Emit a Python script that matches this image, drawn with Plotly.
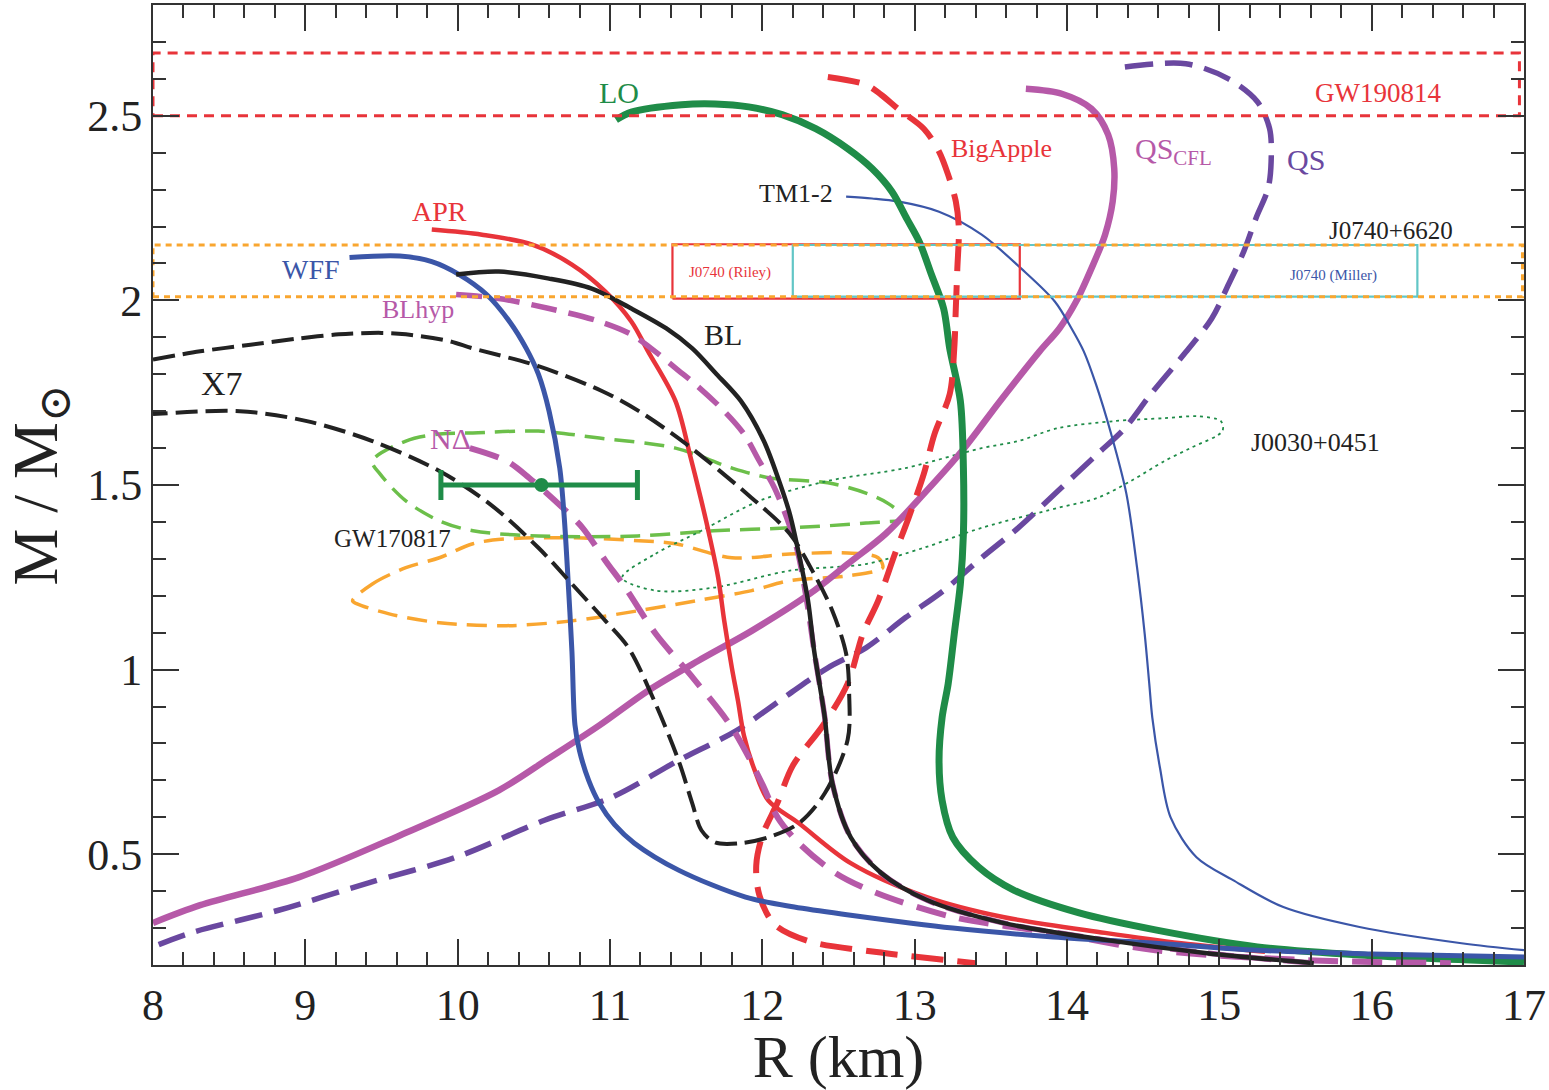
import plotly.graph_objects as go

# ---- mass-radius curves (R in km, M in solar masses) ----
wff_r = [9.29, 9.62, 9.83, 10.01, 10.19, 10.34, 10.45, 10.53, 10.60, 10.67, 10.70, 10.72, 10.75,
         10.77, 10.80, 10.86, 10.93, 11.03, 11.16, 11.45, 11.89, 12.21, 12.58, 13.25, 13.91, 14.58,
         15.25, 16.0, 17.0]
wff_m = [2.116, 2.12, 2.105, 2.07, 2.016, 1.943, 1.87, 1.80, 1.70, 1.546, 1.41, 1.276, 1.05,
         0.85, 0.78, 0.70, 0.638, 0.58, 0.53, 0.457, 0.384, 0.357, 0.335, 0.30, 0.276, 0.259,
         0.24, 0.23, 0.222]

apr_r = [9.83, 10.16, 10.49, 10.75, 10.97, 11.14, 11.25, 11.43, 11.53, 11.60, 11.65, 11.71, 11.75,
         11.80, 11.84, 11.88, 11.95, 12.04, 12.24, 12.58, 13.08, 13.58, 14.25, 14.75, 15.3]
apr_m = [2.192, 2.178, 2.151, 2.097, 2.024, 1.943, 1.862, 1.727, 1.573, 1.457, 1.368, 1.249, 1.132,
         1.005, 0.916, 0.82, 0.727, 0.645, 0.584, 0.476, 0.384, 0.33, 0.287, 0.259, 0.236]

bl_r = [9.99, 10.27, 10.60, 10.88, 11.14, 11.37, 11.54, 11.70, 11.86, 12.01, 12.11, 12.18, 12.24,
        12.30, 12.34, 12.38, 12.41, 12.46, 12.58, 12.78, 13.08, 13.58, 14.25, 14.92, 15.62]
bl_m = [2.07, 2.078, 2.059, 2.032, 1.978, 1.924, 1.870, 1.80, 1.727, 1.619, 1.511, 1.422, 1.313,
        1.186, 1.051, 0.95, 0.87, 0.692, 0.546, 0.449, 0.376, 0.314, 0.268, 0.232, 0.205]

blhyp_r = [9.99, 10.27, 10.60, 10.93, 11.14, 11.27, 11.45, 11.56, 11.75, 11.88, 11.98, 12.08, 12.16,
           12.23, 12.29, 12.34, 12.38, 12.41, 12.46, 12.58, 12.78, 13.08, 13.58, 14.25, 14.92, 15.62]
blhyp_m = [2.016, 2.005, 1.978, 1.943, 1.908, 1.870, 1.81, 1.773, 1.70, 1.638, 1.565, 1.492, 1.411,
           1.322, 1.19, 1.051, 0.95, 0.87, 0.692, 0.546, 0.449, 0.376, 0.314, 0.268, 0.232, 0.205]

ndelta_r = [10.08, 10.32, 10.47, 10.69, 10.82, 10.97, 11.10, 11.30, 11.55, 11.80, 12.00, 12.10,
            12.24, 12.48, 12.75, 13.25, 13.91, 14.58, 15.58, 16.52]
ndelta_m = [1.60, 1.565, 1.519, 1.438, 1.384, 1.295, 1.222, 1.097, 0.975, 0.843, 0.69, 0.60,
            0.53, 0.449, 0.395, 0.33, 0.287, 0.24, 0.213, 0.205]

x7_r = [8.0, 8.31, 8.64, 8.96, 9.22, 9.50, 9.66, 9.94, 10.10, 10.53, 10.95, 11.19, 11.50, 11.93,
        12.18, 12.34, 12.46, 12.55, 12.57, 12.56, 12.41, 12.24, 12.04, 11.86, 11.69, 11.60, 11.54,
        11.45, 11.29, 11.12, 10.97, 10.75, 10.53, 10.21, 9.88, 9.44, 9.01, 8.57, 8.0]
x7_m = [1.84, 1.862, 1.88, 1.897, 1.908, 1.912, 1.908, 1.89, 1.87, 1.822, 1.754, 1.70, 1.611, 1.465,
        1.368, 1.259, 1.159, 1.043, 0.935, 0.81, 0.665, 0.584, 0.546, 0.53, 0.532, 0.565, 0.638,
        0.754, 0.916, 1.06, 1.132, 1.232, 1.33, 1.449, 1.538, 1.619, 1.673, 1.70, 1.692]

lo_r = [11.04, 11.14, 11.47, 11.69, 11.91, 12.13, 12.35, 12.56, 12.72, 12.85, 12.95, 13.03, 13.11,
        13.19, 13.23, 13.30, 13.32, 13.32, 13.30, 13.26, 13.22, 13.18, 13.16, 13.18, 13.25, 13.42,
        13.65, 14.08, 14.58, 15.25, 15.92, 17.0]
lo_m = [2.489, 2.51, 2.53, 2.532, 2.524, 2.503, 2.465, 2.411, 2.357, 2.295, 2.22, 2.159, 2.070,
        1.978, 1.870, 1.727, 1.546, 1.368, 1.232, 1.097, 0.962, 0.87, 0.754, 0.646, 0.546, 0.465,
        0.403, 0.341, 0.295, 0.249, 0.227, 0.208]

tm12_r = [12.55, 12.72, 12.89, 13.16, 13.44, 13.70, 13.92, 14.03, 14.11, 14.19, 14.29, 14.39, 14.46,
          14.51, 14.54, 14.56, 14.61, 14.68, 14.85, 15.09, 15.42, 15.92, 16.59, 17.0]
tm12_m = [2.281, 2.276, 2.268, 2.24, 2.178, 2.086, 1.997, 1.924, 1.862, 1.773, 1.638, 1.476, 1.276,
          1.097, 0.962, 0.87, 0.735, 0.60, 0.492, 0.43, 0.357, 0.303, 0.259, 0.24]

bigapple_r = [12.43, 12.68, 12.78, 12.89, 13.06, 13.16, 13.22, 13.27, 13.29, 13.28, 13.27, 13.26,
              13.23, 13.13, 13.06, 12.96, 12.87, 12.76, 12.66, 12.56, 12.40, 12.20, 12.10, 12.00,
              11.96, 11.98, 12.08, 12.30, 12.75, 13.40]
bigapple_m = [2.605, 2.584, 2.557, 2.519, 2.465, 2.403, 2.34, 2.268, 2.195, 2.086, 1.978, 1.870,
              1.746, 1.638, 1.530, 1.411, 1.313, 1.186, 1.097, 0.962, 0.85, 0.74, 0.64, 0.55,
              0.47, 0.39, 0.31, 0.265, 0.235, 0.205]

qscfl_r = [13.73, 13.97, 14.16, 14.27, 14.31, 14.30, 14.25, 14.16, 14.06, 13.95, 13.82, 13.56, 13.31,
           13.06, 12.81, 12.56, 12.31, 11.93, 11.58, 11.25, 10.93, 10.60, 10.27, 9.62, 8.96, 8.31, 8.0]
qscfl_m = [2.573, 2.559, 2.519, 2.449, 2.357, 2.268, 2.178, 2.086, 1.997, 1.924, 1.862, 1.727, 1.592,
           1.476, 1.368, 1.286, 1.205, 1.105, 1.024, 0.943, 0.849, 0.76, 0.673, 0.551, 0.438, 0.362, 0.314]

qs_r = [14.38, 14.78, 15.06, 15.25, 15.33, 15.34, 15.32, 15.24, 15.16, 15.06, 14.95, 14.78, 14.55,
        14.38, 14.20, 13.94, 13.68, 13.44, 13.19, 12.94, 12.68, 12.43, 12.18, 11.83, 11.45, 11.01,
        10.57, 9.99, 9.41, 8.83, 8.24, 8.0]
qs_m = [2.632, 2.641, 2.60, 2.538, 2.465, 2.376, 2.303, 2.222, 2.132, 2.043, 1.951, 1.860, 1.746,
        1.654, 1.584, 1.484, 1.384, 1.303, 1.214, 1.141, 1.059, 1.005, 0.935, 0.835, 0.754, 0.654,
        0.592, 0.492, 0.422, 0.349, 0.286, 0.249]

# ---- observational constraints ----
gw_green_r = [9.44, 9.66, 9.88, 10.10, 10.53, 10.93, 11.43, 11.80, 12.05, 12.43, 12.68, 12.83, 12.93,
              12.68, 12.18, 11.68, 11.18, 10.53, 10.10, 9.88, 9.66, 9.49, 9.44]
gw_green_m = [1.565, 1.619, 1.638, 1.641, 1.646, 1.627, 1.60, 1.546, 1.519, 1.506, 1.478, 1.449, 1.41,
              1.397, 1.384, 1.376, 1.362, 1.362, 1.376, 1.403, 1.457, 1.530, 1.565]

gw_orange_r = [9.31, 9.44, 9.66, 9.88, 10.10, 10.32, 10.75, 11.19, 11.43, 11.80, 12.18, 12.56, 12.76,
               12.79, 12.56, 12.18, 11.93, 11.56, 11.18, 10.75, 10.32, 9.88, 9.55, 9.34, 9.31]
gw_orange_m = [1.186, 1.232, 1.276, 1.303, 1.341, 1.354, 1.357, 1.349, 1.341, 1.303, 1.313, 1.316, 1.303,
               1.276, 1.254, 1.241, 1.214, 1.186, 1.159, 1.132, 1.119, 1.127, 1.151, 1.178, 1.186]

j0030_r = [11.08, 11.30, 11.60, 11.98, 12.43, 12.94, 13.44, 13.68, 13.94, 14.31, 14.64, 14.86, 15.01,
           15.02, 14.81, 14.64, 14.42, 14.20, 13.94, 13.44, 13.06, 12.68, 12.18, 11.68, 11.30, 11.08]
j0030_m = [1.249, 1.314, 1.376, 1.457, 1.511, 1.546, 1.60, 1.619, 1.654, 1.673, 1.681, 1.686, 1.673,
           1.646, 1.60, 1.565, 1.511, 1.465, 1.438, 1.384, 1.330, 1.286, 1.268, 1.222, 1.214, 1.249]

# bands: [R_min, R_max], [M_min, M_max]
gw190814_r = [8.0, 16.97]
gw190814_m = [2.50, 2.67]
j0740_r = [8.0, 16.99]
j0740_m = [2.01, 2.15]
riley_r = [11.41, 13.69]
riley_m = [2.005, 2.152]
miller_r = [12.20, 16.30]
miller_m = [2.01, 2.15]

# radius estimate at 1.5 Msun with asymmetric error
r15_center = [10.55]
r15_mass = [1.5]
r15_err_plus = [0.63]
r15_err_minus = [0.66]

# ---- colours ----
RED = "#e8343a"
BLUE = "#3b56a8"
GREEN = "#1f8c48"
LGREEN = "#6cbf4a"
PINK = "#b659a8"
PURPLE = "#6a48a0"
ORANGE = "#f9a630"
CYAN = "#62c6c6"
BLACK = "#222222"

SERIF = "Liberation Serif, Times New Roman, DejaVu Serif, serif"


def box(rr, mm):
    return [rr[0], rr[1], rr[1], rr[0], rr[0]], [mm[0], mm[0], mm[1], mm[1], mm[0]]


fig = go.Figure()


def add_line(x, y, color, width, dash="solid", shape="spline"):
    line = dict(color=color, width=width, dash=dash, shape=shape)
    if shape == "spline":
        line["smoothing"] = 0.9
    fig.add_trace(go.Scatter(x=x, y=y, mode="lines", line=line,
                             hoverinfo="skip", showlegend=False))


# observational contours
add_line(gw_orange_r, gw_orange_m, ORANGE, 3.5, "20px,10px")
add_line(gw_green_r, gw_green_m, LGREEN, 3.5, "20px,10px")
add_line(j0030_r, j0030_m, GREEN, 1.8, "3px,4px")

# EOS curves
add_line(qscfl_r, qscfl_m, PINK, 6.5)
add_line(qs_r, qs_m, PURPLE, 5.5, "28px,12px")
add_line(tm12_r, tm12_m, BLUE, 2.2)
add_line(lo_r, lo_m, GREEN, 7)
add_line(bigapple_r, bigapple_m, RED, 6, "32px,14px")
add_line(apr_r, apr_m, RED, 4.5)
add_line(blhyp_r, blhyp_m, PINK, 5.5, "26px,12px")
add_line(ndelta_r, ndelta_m, PINK, 6, "30px,14px")
add_line(wff_r, wff_m, BLUE, 5)
add_line(x7_r, x7_m, BLACK, 4, "22px,8px")
add_line(bl_r, bl_m, BLACK, 4.5)

# boxes for pulsar / merger constraints
bx, by = box(riley_r, riley_m)
add_line(bx, by, RED, 2.2, shape="linear")
bx, by = box(miller_r, miller_m)
add_line(bx, by, CYAN, 2.2, shape="linear")
bx, by = box(j0740_r, j0740_m)
add_line(bx, by, ORANGE, 3, "6px,5px", shape="linear")
bx, by = box(gw190814_r, gw190814_m)
add_line(bx, by, RED, 3, "10px,7px", shape="linear")

# R(1.5 Msun) error bar
fig.add_trace(go.Scatter(
    x=r15_center, y=r15_mass, mode="markers",
    marker=dict(color=GREEN, size=14, symbol="circle"),
    error_x=dict(type="data", symmetric=False, array=r15_err_plus, arrayminus=r15_err_minus,
                 color=GREEN, thickness=5, width=15),
    hoverinfo="skip", showlegend=False))

# ---- curve and constraint labels ----
labels = [
    ("WFF", 9.04, 2.084, BLUE, 28),
    ("APR", 9.88, 2.24, RED, 28),
    ("BLhyp", 9.74, 1.976, PINK, 26),
    ("BL", 11.74, 1.908, BLACK, 30),
    ("X7", 8.45, 1.776, BLACK, 34),
    ("NΔ", 9.95, 1.627, PINK, 30),
    ("GW170817", 9.57, 1.354, BLACK, 25),
    ("LO", 11.06, 2.562, GREEN, 30),
    ("TM1-2", 12.22, 2.289, BLACK, 26),
    ("BigApple", 13.57, 2.411, RED, 26),
    ("QS<sub>CFL</sub>", 14.70, 2.405, PINK, 30),
    ("QS", 15.57, 2.381, PURPLE, 30),
    ("GW190814", 16.04, 2.562, RED, 27),
    ("J0740+6620", 16.13, 2.189, BLACK, 25),
    ("J0740 (Riley)", 11.79, 2.075, RED, 15),
    ("J0740 (Miller)", 15.75, 2.068, BLUE, 15),
    ("J0030+0451", 15.63, 1.616, BLACK, 26),
]
for text, lx, ly, col, size in labels:
    fig.add_annotation(x=lx, y=ly, text=text, showarrow=False,
                       font=dict(family=SERIF, size=size, color=col),
                       xanchor="center", yanchor="middle")

axis_common = dict(
    showline=True, linecolor="#333333", linewidth=2, mirror="allticks",
    ticks="inside", ticklen=26, tickwidth=2, tickcolor="#333333",
    showgrid=False, zeroline=False,
    tickfont=dict(family=SERIF, size=44, color=BLACK),
)

fig.update_xaxes(
    range=[8, 17], tickvals=[8, 9, 10, 11, 12, 13, 14, 15, 16, 17],
    minor=dict(dtick=0.2, tick0=8, ticks="inside", ticklen=13, tickwidth=2, tickcolor="#333333"),
    title=dict(text="R (km)", font=dict(family=SERIF, size=60, color=BLACK), standoff=12),
    **axis_common)
fig.update_yaxes(
    range=[0.2, 2.8], tickvals=[0.5, 1.0, 1.5, 2.0, 2.5], ticktext=["0.5", "1", "1.5", "2", "2.5"],
    minor=dict(dtick=0.1, tick0=0.2, ticks="inside", ticklen=13, tickwidth=2, tickcolor="#333333"),
    title=dict(text="M / M<sub>⊙</sub>", font=dict(family=SERIF, size=64, color=BLACK), standoff=12),
    **axis_common)

fig.update_layout(
    width=1549, height=1090,
    margin=dict(l=153, r=22, t=3, b=125),
    paper_bgcolor="white", plot_bgcolor="white",
    showlegend=False,
)

fig.write_html("out.html")
